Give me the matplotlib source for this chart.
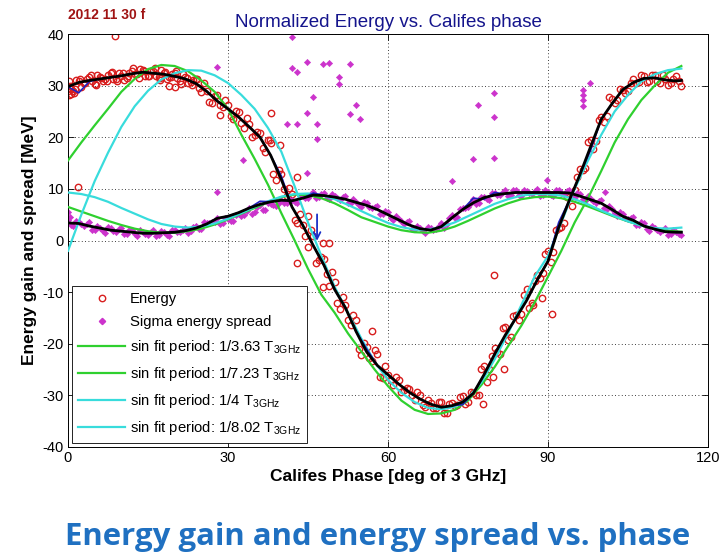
import matplotlib
matplotlib.use("Agg")
import matplotlib.pyplot as plt
from matplotlib.lines import Line2D

plt.rcParams['font.family'] = ['Liberation Sans', 'DejaVu Sans']
plt.rcParams['mathtext.default'] = 'regular'
plt.rcParams['axes.unicode_minus'] = False

# ---- smoothed curves (2 deg steps) ----
avg_phase = [0, 2, 4, 6, 8, 10, 12, 14, 16, 18, 20, 22, 24, 26, 28, 30, 32, 34, 36, 38,
             40, 42, 44, 46, 48, 50, 52, 54, 56, 58, 60, 62, 64, 66, 68, 70, 72, 74, 76, 78,
             80, 82, 84, 86, 88, 90, 92, 94, 96, 98, 100, 102, 104, 106, 108, 110, 112, 114, 115]
avg_energy = [29.8, 30.6, 31.0, 31.3, 31.6, 31.9, 32.3, 32.6, 32.4, 32.2, 31.8, 31.3, 30.4, 28.9,
              27.0, 25.5, 23.9, 22.0, 20.0, 16.5, 11.8, 6.5, 3.0, -1.0, -4.8, -9.5, -13.0, -17.6,
              -21.6, -24.2, -26.0, -27.8, -29.4, -30.7, -31.7, -32.3, -32.0, -31.3, -29.6, -26.0,
              -22.0, -18.3, -15.0, -11.6, -7.6, -4.0, 2.5, 7.8, 12.8, 18.2, 23.5, 26.5, 29.2, 30.6,
              31.4, 31.5, 31.1, 30.9, 31.0]
avg_spread = [3.4, 3.3, 2.8, 2.4, 2.0, 1.8, 1.6, 1.4, 1.4, 1.5, 1.6, 1.9, 2.4, 3.2, 4.3, 4.7, 5.4,
              6.3, 7.0, 7.5, 7.8, 7.7, 8.2, 8.8, 8.7, 8.4, 8.0, 7.4, 6.8, 6.0, 5.0, 4.0, 3.0, 2.3,
              2.0, 2.7, 4.4, 6.0, 7.3, 8.3, 8.8, 9.1, 9.3, 9.3, 9.3, 9.3, 9.3, 9.2, 8.6, 7.9, 7.2,
              6.0, 4.7, 3.9, 2.8, 2.2, 1.7, 1.6, 1.6]
raw_energy = [29.8, 28.6, 30.8, 31.3, 31.6, 31.9, 32.3, 32.6, 32.4, 32.2, 31.8, 31.3, 30.4, 28.9,
              27.0, 25.5, 23.9, 22.0, 20.0, 16.5, 12.5, 6.5, 3.0, -1.0, -4.8, -9.5, -13.0, -17.6,
              -21.0, -24.2, -26.0, -27.8, -29.4, -30.7, -31.7, -32.3, -32.0, -31.8, -29.6, -26.0,
              -22.0, -18.3, -15.0, -11.6, -7.6, -4.0, 3.5, 7.8, 12.8, 17.5, 23.5, 26.5, 29.2, 30.6,
              31.4, 31.5, 31.1, 30.9, 31.0]
raw_spread = [3.4, 3.3, 2.8, 2.4, 2.0, 1.8, 1.6, 1.4, 1.4, 1.5, 1.6, 1.9, 2.4, 3.2, 4.3, 4.7, 5.4,
              6.3, 7.6, 7.5, 7.8, 7.7, 8.2, 9.2, 8.7, 8.4, 8.0, 7.4, 6.8, 6.0, 5.0, 4.0, 3.0, 2.3,
              2.0, 2.7, 4.4, 6.0, 8.2, 8.0, 9.3, 9.0, 9.3, 9.3, 9.3, 9.3, 9.3, 9.2, 8.6, 7.9, 7.2,
              6.0, 4.7, 3.9, 2.8, 2.2, 1.7, 1.6, 1.6]

# ---- sine fits (2.5 deg steps) ----
fit_phase = [0, 2.5, 5, 7.5, 10, 12.5, 15, 17.5, 20, 22.5, 25, 27.5, 30, 32.5, 35, 37.5, 40,
             42.5, 45, 47.5, 50, 52.5, 55, 57.5, 60, 62.5, 65, 67.5, 70, 72.5, 75, 77.5, 80,
             82.5, 85, 87.5, 90, 92.5, 95, 97.5, 100, 102.5, 105, 107.5, 110, 112.5, 115]
fit_e_363 = [15.5, 19.0, 22.3, 25.5, 28.8, 31.3, 33.2, 34.0, 33.8, 32.8, 31.0, 28.8, 25.5, 20.5,
             15.8, 10.8, 5.3, 0.0, -5.5, -10.5, -14.0, -18.0, -21.5, -25.0, -28.2, -31.0, -32.8,
             -33.6, -33.5, -32.8, -31.0, -28.0, -24.5, -20.5, -16.5, -12.0, -7.0, -2.0, 3.5, 8.2,
             13.5, 19.0, 23.5, 27.2, 30.0, 32.5, 33.8]
fit_s_723 = [6.5, 5.6, 4.7, 3.8, 3.0, 2.3, 1.8, 1.5, 1.5, 1.8, 2.3, 3.1, 4.1, 5.2, 6.3, 7.4, 8.4,
             8.9, 8.8, 8.2, 7.2, 5.9, 4.5, 3.6, 2.7, 2.0, 1.6, 1.5, 1.9, 2.7, 3.8, 5.0, 6.2, 7.2,
             8.0, 8.4, 8.5, 8.2, 7.5, 6.6, 5.6, 4.6, 3.7, 2.9, 2.3, 1.9, 1.7]
fit_e_4 = [-2.0, 5.0, 11.5, 17.0, 22.0, 26.0, 29.0, 31.2, 32.4, 33.0, 32.9, 32.0, 30.5, 28.2,
           25.5, 21.8, 17.2, 10.5, 3.5, -3.0, -9.0, -14.0, -19.0, -23.5, -27.0, -29.5, -31.3,
           -32.4, -32.7, -32.2, -30.5, -27.5, -23.0, -18.0, -12.5, -7.0, -3.0, 3.5, 10.0, 15.5,
           20.5, 25.0, 28.2, 30.8, 32.2, 33.0, 33.3]
fit_s_802 = [9.3, 9.0, 8.4, 7.5, 6.3, 5.2, 4.1, 3.2, 2.7, 2.5, 2.7, 3.3, 4.2, 5.3, 6.5, 7.6, 8.5,
             9.0, 9.1, 8.8, 8.0, 6.9, 5.7, 4.5, 3.4, 2.6, 2.1, 2.1, 2.6, 3.5, 4.7, 5.9, 7.1, 8.0,
             8.7, 9.0, 9.0, 8.7, 8.0, 7.0, 5.8, 4.7, 3.7, 2.9, 2.4, 2.3, 2.5]

# ---- measured energy gain ----
energy_phase = list(range(0, 116)) + [
    36.5, 37.5, 38.5, 39.5, 40.5, 41.5, 42.5, 43.5, 44.5, 45.5, 46.5, 47.5, 48.5, 49.5, 50.5,
    51.5, 52.5, 53.5, 54.5, 55.5, 56.5, 57.5, 58.5, 59.5,
    76.5, 77.5, 78.5, 79.5, 80.5, 81.5, 82.5, 83.5, 84.5, 85.5, 86.5, 87.5, 88.5, 89.5, 90.5,
    91.5, 92.5, 93.5, 94.5, 95.5, 96.5, 97.5, 98.5, 99.5, 100.5, 101.5,
    0.5, 1.5, 2.5, 3.5, 4.5, 5.5, 6.5, 7.5, 8.5, 9.5, 10.5, 11.5, 12.5, 13.5, 14.5, 15.5, 16.5,
    17.5, 18.5, 19.5, 20.5, 21.5, 22.5, 23.5, 24.5, 25.5, 26.5, 27.5, 28.5, 29.5, 30.5, 31.5,
    32.5, 33.5, 34.5, 35.5,
    60.5, 61.5, 62.5, 63.5, 64.5, 65.5, 66.5, 67.5, 68.5, 69.5, 70.5, 71.5, 72.5, 73.5, 74.5,
    75.5,
    102.5, 103.5, 104.5, 105.5, 106.5, 107.5, 108.5, 109.5, 110.5, 111.5, 112.5, 113.5, 114.5,
    0.25, 1.25, 2.25, 3.25, 4.25, 5.25, 6.25, 7.25, 8.25, 9.25, 10.25, 11.25, 12.25, 13.25,
    14.25, 15.25, 16.25, 17.25, 18.25, 19.25, 20.25, 21.25, 22.25, 23.25, 24.25,
    0.2, 0.4, 0.6, 1.2, 8.8, 1.9, 38.0, 37.9, 39.8, 43.0, 45.0, 47.8, 48.9, 43.0, 47.8, 57.0,
    79.9, 90.8, 81.8, 79.7, 77.8, 87.2, 88.8, 17.3, 19.0, 20.0, 28.5]
energy_mev = [
    29.0, 28.9, 30.8, 30.5, 31.7, 30.4, 31.6, 31.3, 32.4, 31.3, 31.9, 31.4, 32.9, 32.2, 33.0,
    31.9, 32.9, 31.7, 32.4, 31.7, 32.5, 30.8, 31.6, 30.7, 31.2, 28.7, 28.9, 26.6, 28.1, 25.8,
    26.3, 23.6, 24.8, 21.8, 22.6, 20.4, 20.8, 17.2, 18.8, 11.7, 12.8, 8.7, 9.0, 3.3, 3.0,
    -1.3, 0.8, -3.7, -3.6, -8.9, -8.0, -13.3, -12.5, -16.3, -15.4, -22.1, -20.6, -23.4, -22.0,
    -26.6, -26.0, -28.0, -27.0, -29.0, -28.8, -30.9, -30.0, -32.2, -31.5, -32.5, -31.2, -33.4,
    -31.5, -31.9, -30.1, -31.2, -29.6, -30.0, -24.3, -24.8, -20.8, -21.9, -16.8, -18.7, -14.5,
    -14.3, -9.4, -12.1, -6.6, -6.3, -2.0, -2.3, 2.5, 3.4, 9.2, 9.7, 13.8, 14.1, 19.4, 19.3,
    23.9, 24.2, 27.4, 27.3, 29.2, 29.0, 31.3, 30.7, 31.9, 30.8, 32.1, 30.5, 31.3, 30.6, 31.8,
    30.0,
    17.9, 19.4, 12.8, 13.7, 10.0, 10.1, 3.9, 5.1, 0.8, 2.0, -4.4, -3.1, -6.5, -6.1, -12.1,
    -10.9, -15.4, -14.5, -21.1, -19.9, -22.8, -21.3, -26.4, -24.3,
    -30.0, -24.9, -27.5, -22.3, -21.6, -17.0, -19.2, -14.6, -15.4, -10.5, -13.1, -7.9, -7.2,
    -2.7, -4.1, 2.1, 2.6, 8.5, 6.6, 12.3, 13.7, 19.1, 17.8, 23.4, 23.0, 27.8,
    28.4, 31.1, 29.8, 31.2, 30.9, 32.0, 30.8, 32.0, 31.2, 32.5, 31.1, 32.5, 32.2, 33.3, 31.9,
    32.9, 31.9, 33.0, 31.2, 32.2, 31.5, 32.2, 30.5, 31.1, 29.6, 30.5, 26.9, 27.9, 26.3, 27.2,
    24.1, 25.1, 22.7, 23.7, 20.0, 21.0,
    -27.1, -26.4, -29.4, -28.6, -30.0, -29.3, -31.8, -30.9, -32.5, -31.2, -33.4, -31.7, -32.1,
    -30.4, -31.7, -29.4,
    26.7, 29.3, 28.6, 30.6, 30.6, 32.1, 30.7, 32.0, 30.9, 32.0, 30.1, 31.3, 30.8,
    30.9, 29.4, 31.2, 30.5, 32.1, 30.1, 31.5, 30.9, 32.6, 30.9, 32.5, 31.8, 33.4, 31.4,
    32.8, 31.9, 33.4, 31.4, 32.7, 31.6, 32.8, 30.4, 31.4, 30.1, 31.2,
    28.2, 30.0, 29.3, 28.5, 39.7, 10.4, 24.7, 19.5, 18.5, 12.3, 4.7, -0.5, -0.5, -4.3, -9.0,
    -17.5, -6.7, -14.2, -24.9, -26.4, -31.7, -12.5, -11.2, 31.0, 30.0, 29.7, 24.3]

# ---- measured sigma energy spread ----
spread_phase = list(range(0, 116)) + [i + 0.5 for i in range(0, 115)] + [
    0.0, 0.3, 27.9, 42.0, 42.0, 43.0, 44.8, 47.8, 49.0, 52.9, 50.8, 50.8, 46.0, 44.8, 41.0,
    43.0, 46.7, 46.7, 54.0, 52.9, 32.8, 44.8, 27.9, 54.75, 76.9, 79.9, 79.9, 75.9, 79.9, 72.0,
    89.8, 97.9, 96.6, 96.6, 96.6, 96.6, 100.7]
spread_mev = [
    3.9, 2.8, 3.5, 2.8, 3.5, 2.1, 2.5, 1.5, 2.4, 1.7, 2.4, 1.3, 2.1, 0.9, 1.6, 1.1, 2.1, 1.0,
    1.6, 0.9, 2.0, 1.6, 2.5, 1.8, 2.9, 2.2, 3.4, 3.5, 4.3, 3.3, 4.1, 3.7, 5.1, 5.0, 6.2, 5.6,
    6.8, 6.0, 7.0, 6.7, 7.8, 7.3, 7.8, 7.3, 8.6, 8.3, 9.4, 8.4, 9.2, 8.0, 8.6, 7.9, 8.7, 7.2,
    7.5, 6.4, 7.2, 6.2, 6.6, 5.1, 5.5, 3.9, 4.2, 3.2, 3.7, 2.2, 2.4, 1.5, 2.4, 2.2, 3.3, 3.2,
    4.9, 4.6, 6.2, 6.4, 8.0, 7.3, 8.4, 7.9, 9.2, 8.8, 9.7, 8.8, 9.8, 8.7, 9.5, 9.0, 10.0, 8.8,
    9.4, 8.6, 9.7, 9.1, 9.8, 8.5, 9.1, 7.7, 8.1, 7.3, 7.9, 6.1, 6.1, 4.7, 5.1, 4.1, 4.5, 3.0,
    3.3, 1.9, 2.4, 1.7, 2.4, 1.2, 1.7, 1.0,
    3.0, 3.8, 3.1, 3.2, 2.1, 2.9, 1.9, 2.6, 1.9, 2.2, 1.2, 2.1, 1.2, 2.0, 1.3, 1.7, 0.8, 1.9,
    1.1, 2.1, 1.6, 2.1, 1.4, 2.7, 2.2, 3.5, 3.4, 3.6, 3.1, 4.3, 3.8, 5.0, 4.8, 5.7, 5.2, 6.5,
    6.0, 7.2, 6.8, 7.3, 7.2, 8.1, 7.4, 8.6, 8.3, 9.0, 8.2, 9.1, 8.2, 9.0, 8.2, 8.4, 7.3, 8.0,
    6.9, 7.5, 6.5, 6.5, 5.2, 5.7, 4.4, 4.8, 3.7, 3.6, 2.2, 2.9, 1.8, 2.6, 2.1, 2.8, 2.5, 4.4,
    4.4, 6.1, 6.2, 7.3, 7.0, 8.5, 8.0, 9.2, 8.8, 9.3, 8.6, 9.7, 8.9, 9.8, 9.2, 9.6, 8.7, 9.7,
    8.9, 9.8, 9.2, 9.5, 8.5, 9.2, 8.0, 8.6, 7.6, 7.7, 6.3, 6.7, 5.3, 5.5, 4.4, 4.4, 3.0, 3.5,
    2.3, 2.9, 2.0, 2.1, 1.1, 2.0, 1.2,
    5.5, 4.6, 33.6, 39.4, 33.4, 32.7, 34.5, 34.2, 34.4, 34.2, 31.7, 30.3, 27.8, 24.7, 22.6,
    22.6, 22.6, 19.7, 26.3, 24.5, 15.6, 13.1, 9.4, 23.5, 26.3, 28.6, 23.9, 15.8, 16.0, 11.5,
    11.7, 30.5, 29.2, 28.2, 27.2, 26.0, 9.4]

legend_labels = ['Energy', 'Sigma energy spread',
                 'sin fit period: 1/3.63 T$_{3GHz}$', 'sin fit period: 1/7.23 T$_{3GHz}$',
                 'sin fit period: 1/4 T$_{3GHz}$', 'sin fit period: 1/8.02 T$_{3GHz}$']

marker_phase = 46.7
marker_from, marker_to = 5.6, -0.6

GREEN = '#2fd02f'
CYAN = '#38dcdc'
RED = '#d81e1e'
MAGENTA = '#cc33cc'
NAVY = '#14148c'

fig = plt.figure(figsize=(7.2, 5.57), dpi=100)
ax = fig.add_axes([68 / 720, 1 - 447 / 557, 640 / 720, 413 / 557])

ax.plot(energy_phase, energy_mev, 'o', ms=4.6, mfc='none', mec=RED, mew=1.0, zorder=2)
ax.plot(spread_phase, spread_mev, 'D', ms=3.2, mfc=MAGENTA, mec=MAGENTA, mew=0.4, zorder=2)

ax.plot(fit_phase, fit_e_363, color=GREEN, lw=1.6, zorder=3)
ax.plot(fit_phase, fit_s_723, color=GREEN, lw=1.6, zorder=3)
ax.plot(fit_phase, fit_e_4, color=CYAN, lw=1.6, zorder=3)
ax.plot(fit_phase, fit_s_802, color=CYAN, lw=1.6, zorder=3)

ax.plot(avg_phase, raw_energy, color='#2020c0', lw=1.2, zorder=4)
ax.plot(avg_phase, raw_spread, color='#2020c0', lw=1.2, zorder=4)
ax.plot(avg_phase, avg_energy, color='black', lw=2.0, zorder=5)
ax.plot(avg_phase, avg_spread, color='black', lw=2.0, zorder=5)

ax.annotate('', xy=(marker_phase, marker_to), xytext=(marker_phase, marker_from),
            arrowprops=dict(arrowstyle='->', color='#1a2fc8', lw=1.3, mutation_scale=12),
            zorder=6)

ax.set_xlim(0, 120)
ax.set_ylim(-40, 40)
ax.set_xticks([0, 30, 60, 90, 120])
ax.set_yticks(range(-40, 41, 10))
ax.tick_params(direction='in', top=True, right=True, length=4, width=0.6,
               labelsize=10.5, pad=3)
ax.grid(True, linestyle=(0, (1, 3)), color='black', linewidth=0.6)
for s in ax.spines.values():
    s.set_linewidth(0.7)

ax.set_xlabel('Califes Phase [deg of 3 GHz]', fontsize=12.5, fontweight='bold', labelpad=3)
ax.set_ylabel('Energy gain and spread [MeV]', fontsize=12.5, fontweight='bold', labelpad=4)
ax.set_title('Normalized Energy vs. Califes phase', fontsize=13.5, color=NAVY, pad=5)
fig.text(68 / 720, 1 - 15 / 557, '2012 11 30 f', fontsize=10, fontweight='bold',
         color='#a01414', ha='left', va='center',
         family=['Liberation Sans Narrow', 'Liberation Sans'])

handles = [
    Line2D([], [], ls='none', marker='o', ms=4.6, mfc='none', mec=RED, mew=1.0),
    Line2D([], [], ls='none', marker='D', ms=3.2, mfc=MAGENTA, mec=MAGENTA),
    Line2D([], [], color=GREEN, lw=1.6),
    Line2D([], [], color=GREEN, lw=1.6),
    Line2D([], [], color=CYAN, lw=1.6),
    Line2D([], [], color=CYAN, lw=1.6),
]
leg = ax.legend(handles, legend_labels, loc='lower left', bbox_to_anchor=(0.006, 0.01),
                borderaxespad=0, fontsize=10.7, handlelength=3.2, handletextpad=0.3,
                labelspacing=0.6, borderpad=0.4, fancybox=False, framealpha=1,
                edgecolor='black')
leg.get_frame().set_linewidth(0.6)
leg.set_zorder(10)

fig.text(378 / 720, 1 - 537 / 557, 'Energy gain and energy spread vs. phase', fontsize=22.4,
         fontweight='bold', color='#1f70c1', ha='center', va='center',
         family=['Open Sans', 'DejaVu Sans'])

fig.savefig('out.png', dpi=100)
